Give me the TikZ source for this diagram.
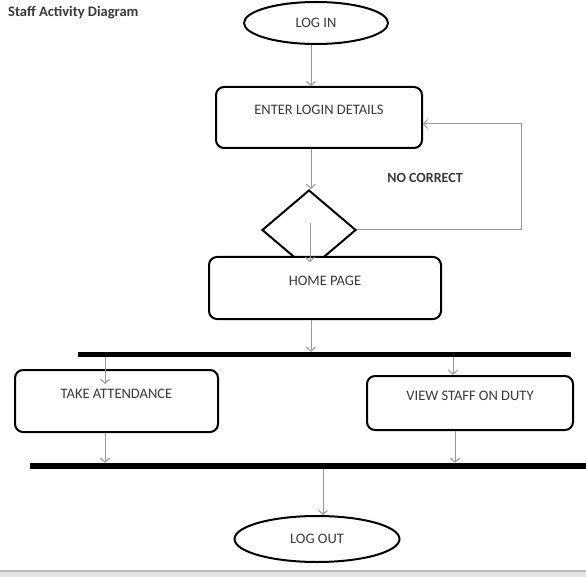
\documentclass[tikz,border=0pt]{standalone}
\usepackage{fontspec}
\setmainfont{Carlito}
\usetikzlibrary{arrows.meta,shapes.geometric}
\definecolor{txt}{HTML}{3A3A3A}
\definecolor{conn}{HTML}{9A9A9A}
\definecolor{strip}{HTML}{E4E6E6}
\definecolor{stripline}{HTML}{B8BCBC}
\tikzset{
  actbox/.style={draw=black, line width=2pt, rounded corners=8pt, fill=white,
    inner sep=0pt, text=txt, font=\fontsize{14.5}{16}\selectfont,
    text height=9pt, text depth=15pt},
  term/.style={draw=black, line width=2pt, ellipse, fill=white, inner sep=0pt,
    text=txt, font=\fontsize{14.5}{16}\selectfont},
  bar/.style={fill=black, draw=none, inner sep=0pt, rectangle},
  flow/.style={draw=conn, line width=1pt, -{Straight Barb[length=4pt,width=9pt]}},
  decision/.style={draw=black, line width=2pt, diamond, inner sep=0pt, fill=white}
}
\begin{document}
\begin{tikzpicture}[x=1pt,y=-1pt]
\useasboundingbox (0,0) rectangle (586,577);
\fill[white] (0,0) rectangle (586,577);
% bottom strip
\fill[strip] (0,570) rectangle (586,577);
\draw[stripline, line width=2pt] (0,571) -- (586,571);

% title
\node[anchor=west, inner sep=0pt, text=txt, font=\fontsize{14.5}{16}\selectfont\bfseries] (title) at (8,13) {Staff Activity Diagram};

% column coordinates
\coordinate (colA) at (311,0);
\coordinate (colD) at (310,0);
\coordinate (colL) at (105,0);
\coordinate (colR) at (453,0);
\coordinate (colR2) at (455,0);
\coordinate (colB) at (323,0);
\coordinate (fbx) at (521,0);

% nodes
\node[term, minimum width=144pt, minimum height=42pt] (login) at (316,23) {LOG IN};
\node[actbox, minimum width=206pt, minimum height=61pt] (enter) at (319,117.5) {ENTER LOGIN DETAILS};
\node[decision, minimum width=94pt, minimum height=80pt] (dia) at (309,230) {};
\node[actbox, minimum width=232pt, minimum height=62pt] (home) at (325,288) {HOME PAGE};
\node[inner sep=0pt, text=txt, font=\fontsize{14}{16}\selectfont\bfseries] (nocorr) at (425,178) {NO CORRECT};
\node[bar, minimum width=493pt, minimum height=5pt] (bar1) at (324.5,354.5) {};
\node[actbox, minimum width=203pt, minimum height=62pt] (take) at (116.5,401) {TAKE ATTENDANCE};
\node[actbox, minimum width=206pt, minimum height=54pt] (view) at (470,403) {VIEW STAFF ON DUTY};
\node[bar, minimum width=556pt, minimum height=6pt] (bar2) at (308,466) {};
\node[term, minimum width=165pt, minimum height=46pt] (logout) at (317,539) {LOG OUT};

% connectors
\draw[flow] (login.south -| colA) -- (enter.north -| colA);
\draw[flow] (enter.south -| colA) -- (dia.north -| colA);
\draw[flow] ([yshift=7pt]dia.center -| colD) -- ([yshift=-6pt]home.north -| colD);
\draw[flow] (dia.east) -- (dia.east -| fbx) |- ([yshift=-6.5pt]enter.east);
\draw[flow] (home.south -| colA) -- (bar1.north -| colA);
\draw[flow] (bar1.south -| colL) -- ([yshift=-15pt]take.north -| colL);
\draw[flow] (take.south -| colL) -- (bar2.north -| colL);
\draw[flow] (bar1.south -| colR) -- (view.north -| colR);
\draw[flow] (view.south -| colR2) -- (bar2.north -| colR2);
\draw[flow] (bar2.south -| colB) -- (logout.north -| colB);
\end{tikzpicture}
\end{document}
